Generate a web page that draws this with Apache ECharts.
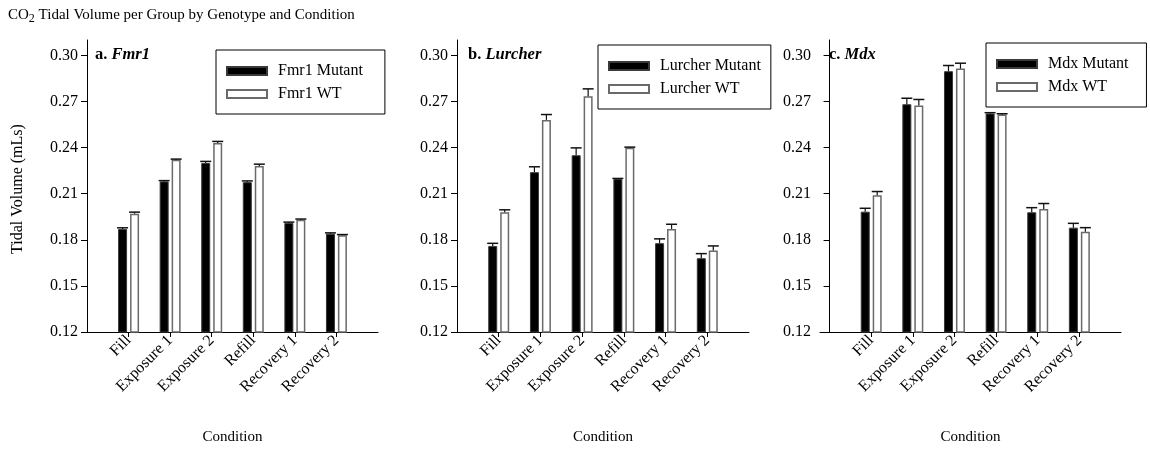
<!DOCTYPE html>
<html>
<head>
<meta charset="utf-8">
<script src="https://cdn.jsdelivr.net/npm/echarts@6/dist/echarts.min.js"></script>
<style>
html,body{margin:0;padding:0;background:#fff;}
#chart{width:1150px;height:451px;}
</style>
</head>
<body>
<div id="chart"></div>
<script>
// ---- data ----
const categories = ['Fill', 'Exposure 1', 'Exposure 2', 'Refill', 'Recovery 1', 'Recovery 2'];
const categoryPositions = [1, 2, 3, 4, 5, 6];
const yTicks = [0.12, 0.15, 0.18, 0.21, 0.24, 0.27, 0.30];

const fmr1Mutant    = [0.187, 0.218, 0.230, 0.2175, 0.191, 0.184];
const fmr1MutantErr = [0.0008, 0.0005, 0.001, 0.0008, 0.0005, 0.0005];
const fmr1WT        = [0.197, 0.232, 0.243, 0.228, 0.193, 0.183];
const fmr1WTErr     = [0.001, 0.0005, 0.001, 0.0012, 0.0005, 0.0004];

const lurcherMutant    = [0.176, 0.224, 0.235, 0.2195, 0.1778, 0.168];
const lurcherMutantErr = [0.0017, 0.0035, 0.0048, 0.0004, 0.0028, 0.003];
const lurcherWT        = [0.198, 0.258, 0.2734, 0.2399, 0.1871, 0.173];
const lurcherWTErr     = [0.0015, 0.0035, 0.0048, 0.0004, 0.003, 0.003];

const mdxMutant    = [0.1983, 0.2682, 0.2897, 0.2622, 0.1979, 0.1879];
const mdxMutantErr = [0.0022, 0.0039, 0.0037, 0.0005, 0.003, 0.0028];
const mdxWT        = [0.209, 0.2674, 0.2914, 0.2615, 0.2001, 0.1853];
const mdxWTErr     = [0.0024, 0.0039, 0.0035, 0.0005, 0.0035, 0.0026];

const seriesNames = [
  ['Fmr1 Mutant', 'Fmr1 WT'],
  ['Lurcher Mutant', 'Lurcher WT'],
  ['Mdx Mutant', 'Mdx WT']
];
const panelTitles = [['a. ', 'Fmr1'], ['b. ', 'Lurcher'], ['c. ', 'Mdx']];

// ---- layout / style ----
const FONT = "'Liberation Serif', 'Times New Roman', serif";
const grids = [
  {left: 87, top: 40, width: 291, height: 292},
  {left: 457, top: 40, width: 292, height: 292},
  {left: 820, top: 40, width: 301, height: 292}
];
const xMins = [0, 0, -0.23];
const legendPos = [
  {left: 216, top: 50, padding: [12, 22, 11, 10]},
  {left: 598, top: 45, padding: [12, 10, 11, 10]},
  {left: 986, top: 43, padding: [12, 18, 11, 10]}
];
const titleOffsets = [8, 11, 9];
const BAR_W = 9;
const OFFSET = 6;

function toPairs(vals) { return vals.map((v, i) => [categoryPositions[i], v]); }

function errSeries(idx, vals, errs, dx) {
  return {
    type: 'custom', xAxisIndex: idx, yAxisIndex: idx, z: 5, silent: true,
    data: vals.map((v, i) => [categoryPositions[i], v, errs[i]]),
    renderItem: function (params, api) {
      const x = api.value(0), v = api.value(1), e = api.value(2);
      const p0 = api.coord([x, v]);
      const p1 = api.coord([x, v + e]);
      const cx = p0[0] + dx;
      return {
        type: 'group',
        children: [
          {type: 'line', shape: {x1: cx, y1: p0[1], x2: cx, y2: p1[1]}, style: {stroke: '#111', lineWidth: 1.2}},
          {type: 'line', shape: {x1: cx - 5.5, y1: p1[1], x2: cx + 5.5, y2: p1[1]}, style: {stroke: '#111', lineWidth: 1.5}}
        ]
      };
    }
  };
}

const panels = [
  [fmr1Mutant, fmr1MutantErr, fmr1WT, fmr1WTErr],
  [lurcherMutant, lurcherMutantErr, lurcherWT, lurcherWTErr],
  [mdxMutant, mdxMutantErr, mdxWT, mdxWTErr]
];

const series = [];
panels.forEach((p, idx) => {
  series.push({
    type: 'bar', name: seriesNames[idx][0], xAxisIndex: idx, yAxisIndex: idx,
    data: toPairs(p[0]), barWidth: BAR_W, barGap: '33%',
    itemStyle: {color: '#000', borderColor: '#3a3a3a', borderWidth: 1}
  });
  series.push({
    type: 'bar', name: seriesNames[idx][1], xAxisIndex: idx, yAxisIndex: idx,
    data: toPairs(p[2]), barWidth: BAR_W, barGap: '33%',
    itemStyle: {color: '#fff', borderColor: '#6a6a6a', borderWidth: 1.5}
  });
  series.push(errSeries(idx, p[0], p[1], -OFFSET));
  series.push(errSeries(idx, p[2], p[3], OFFSET));
});

const xAxes = grids.map((g, idx) => ({
  type: 'value', gridIndex: idx, min: xMins[idx], max: 7,
  splitLine: {show: false},
  axisLine: {show: true, lineStyle: {color: '#000', width: 1}},
  axisTick: {show: true, customValues: categoryPositions, length: 5, lineStyle: {color: '#000'}},
  axisLabel: {
    customValues: categoryPositions, rotate: 45, margin: 6,
    fontFamily: FONT, fontSize: 16, color: '#000',
    formatter: v => categories[Math.round(v) - 1] || ''
  },
  name: 'Condition', nameLocation: 'middle', nameGap: 98,
  nameTextStyle: {fontFamily: FONT, fontSize: 15, color: '#000'}
}));

const yAxes = grids.map((g, idx) => ({
  type: 'value', gridIndex: idx, min: 0.12, max: 0.31,
  splitLine: {show: false},
  axisLine: {show: true, lineStyle: {color: '#000', width: 1}},
  axisTick: {show: true, customValues: yTicks, length: 6, lineStyle: {color: '#000'}},
  axisLabel: {
    customValues: yTicks, margin: 9,
    fontFamily: FONT, fontSize: 16, color: '#000',
    formatter: v => v.toFixed(2)
  }
}));

const legends = legendPos.map((l, idx) => ({
  data: seriesNames[idx], orient: 'vertical',
  left: l.left, top: l.top, padding: l.padding,
  itemWidth: 40, itemHeight: 8, itemGap: 5,
  borderColor: '#000', borderWidth: 1, backgroundColor: '#fff',
  icon: 'rect', selectedMode: false,
  textStyle: {fontFamily: FONT, fontSize: 16, color: '#000', lineHeight: 18, padding: [0, 0, 0, 6]}
}));

const graphics = [
  {
    type: 'text', left: 8, top: 5,
    style: {
      text: '{n|CO}{s|2}{n| Tidal Volume per Group by Genotype and Condition}',
      rich: {
        n: {fontFamily: FONT, fontSize: 15, fill: '#000', lineHeight: 18},
        s: {fontFamily: FONT, fontSize: 12, fill: '#000', padding: [8, 0, 0, 0], lineHeight: 13}
      }
    }
  },
  {
    type: 'text', x: 18, y: 189, rotation: Math.PI / 2,
    style: {
      text: 'Tidal Volume (mLs)', fontFamily: FONT, fontSize: 16, fill: '#000',
      align: 'center', verticalAlign: 'middle'
    }
  }
];
panelTitles.forEach((t, idx) => {
  graphics.push({
    type: 'text', x: grids[idx].left + titleOffsets[idx], y: 55,
    style: {
      text: '{b|' + t[0] + '}{bi|' + t[1] + '}',
      verticalAlign: 'middle',
      rich: {
        b: {fontFamily: FONT, fontSize: 16.5, fontWeight: 'bold', fill: '#000'},
        bi: {fontFamily: FONT, fontSize: 16.5, fontWeight: 'bold', fontStyle: 'italic', fill: '#000'}
      }
    }
  });
});

const chart = echarts.init(document.getElementById('chart'), null, {renderer: 'canvas'});
chart.setOption({
  animation: false,
  backgroundColor: '#fff',
  grid: grids,
  xAxis: xAxes,
  yAxis: yAxes,
  legend: legends,
  graphic: graphics,
  series: series
});
</script>
</body>
</html>
